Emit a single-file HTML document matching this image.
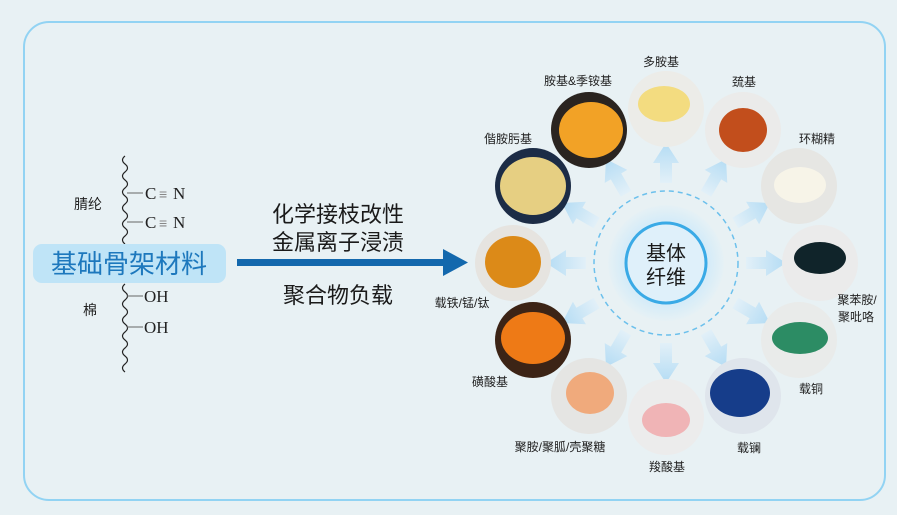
<!DOCTYPE html>
<html><head><meta charset="utf-8"><style>
html,body{margin:0;padding:0;background:#e8f1f4;}
svg{display:block;}
text{font-family:"Liberation Sans","Noto Sans CJK SC",sans-serif;}
text.serif{font-family:"Liberation Serif","DejaVu Serif",serif;}
</style></head><body>
<svg width="897" height="515" viewBox="0 0 897 515" xmlns="http://www.w3.org/2000/svg">
<defs>
<radialGradient id="glow" cx="50%" cy="50%" r="50%">
<stop offset="0%" stop-color="#cfe9f8"/><stop offset="75%" stop-color="#d6ecf8"/><stop offset="100%" stop-color="#e6f1f5"/>
</radialGradient>
<linearGradient id="arr" x1="0" y1="0" x2="1" y2="0">
<stop offset="0%" stop-color="#e2f0f8"/><stop offset="100%" stop-color="#b4dcf4"/>
</linearGradient>
</defs>
<rect x="24" y="22" width="861" height="478" rx="25" fill="#e8f1f4" stroke="#92d3f3" stroke-width="2"/>

<path d="M125 156 q-5 4 0 8 q5 4 0 8 q-5 4 0 8 q5 4 0 8 q-5 4 0 8 q5 4 0 8 q-5 4 0 8 q5 4 0 8 q-5 4 0 8 q5 4 0 8 q-5 4 0 8" fill="none" stroke="#222" stroke-width="1.2"/>
<path d="M125 284 q-5 4 0 8 q5 4 0 8 q-5 4 0 8 q5 4 0 8 q-5 4 0 8 q5 4 0 8 q-5 4 0 8 q5 4 0 8 q-5 4 0 8 q5 4 0 8 q-5 4 0 8" fill="none" stroke="#222" stroke-width="1.2"/>
<line x1="127" y1="193" x2="143" y2="193" stroke="#666"/>
<line x1="127" y1="222" x2="143" y2="222" stroke="#666"/>
<line x1="127" y1="296" x2="143" y2="296" stroke="#666"/>
<line x1="127" y1="327" x2="143" y2="327" stroke="#666"/>
<text class="serif" x="145" y="199" font-size="17" fill="#222">C</text>
<text x="159" y="199" font-size="14" fill="#888">≡</text>
<text class="serif" x="173" y="199" font-size="17" fill="#222">N</text>
<text class="serif" x="145" y="228" font-size="17" fill="#222">C</text>
<text x="159" y="228" font-size="14" fill="#888">≡</text>
<text class="serif" x="173" y="228" font-size="17" fill="#222">N</text>
<text class="serif" x="144" y="302" font-size="17" fill="#222">OH</text>
<text class="serif" x="144" y="333" font-size="17" fill="#222">OH</text>
<text x="74" y="209" font-size="14" fill="#222">腈纶</text>
<text x="83" y="315" font-size="14" fill="#222">棉</text>
<rect x="33" y="244" width="193" height="39" rx="9" fill="#bfe4f7"/>
<text x="129" y="273" font-size="26" fill="#1d78bd" text-anchor="middle">基础骨架材料</text>

<rect x="237" y="259" width="210" height="7" fill="#1368ad"/>
<polygon points="443,249 468,262.5 443,276" fill="#1368ad"/>
<text x="338" y="222" font-size="22" fill="#1a1a1a" text-anchor="middle">化学接枝改性</text>
<text x="338" y="250" font-size="22" fill="#1a1a1a" text-anchor="middle">金属离子浸渍</text>
<text x="338" y="303" font-size="22" fill="#1a1a1a" text-anchor="middle">聚合物负载</text>

<circle cx="666" cy="263" r="72" fill="none" stroke="#6cc0ec" stroke-width="1.5" stroke-dasharray="5,4"/>
<circle cx="666" cy="263" r="58" fill="url(#glow)"/>
<circle cx="666" cy="263" r="40" fill="#dff0fa" stroke="#3aaae6" stroke-width="3"/>
<text x="666" y="260" font-size="20" fill="#1a1a1a" text-anchor="middle">基体</text>
<text x="666" y="284" font-size="20" fill="#1a1a1a" text-anchor="middle">纤维</text>

<g fill="url(#arr)">
<g transform="translate(666,263) rotate(-90)"><polygon points="80,-6 100,-6 100,-13 120,0 100,13 100,6 80,6"/></g>
<g transform="translate(666,263) rotate(-60)"><polygon points="80,-6 100,-6 100,-13 120,0 100,13 100,6 80,6"/></g>
<g transform="translate(666,263) rotate(-30)"><polygon points="80,-6 100,-6 100,-13 120,0 100,13 100,6 80,6"/></g>
<g transform="translate(666,263) rotate(0)"><polygon points="80,-6 100,-6 100,-13 120,0 100,13 100,6 80,6"/></g>
<g transform="translate(666,263) rotate(30)"><polygon points="80,-6 100,-6 100,-13 120,0 100,13 100,6 80,6"/></g>
<g transform="translate(666,263) rotate(60)"><polygon points="80,-6 100,-6 100,-13 120,0 100,13 100,6 80,6"/></g>
<g transform="translate(666,263) rotate(90)"><polygon points="80,-6 100,-6 100,-13 120,0 100,13 100,6 80,6"/></g>
<g transform="translate(666,263) rotate(120)"><polygon points="80,-6 100,-6 100,-13 120,0 100,13 100,6 80,6"/></g>
<g transform="translate(666,263) rotate(150)"><polygon points="80,-6 100,-6 100,-13 120,0 100,13 100,6 80,6"/></g>
<g transform="translate(666,263) rotate(180)"><polygon points="80,-6 100,-6 100,-13 120,0 100,13 100,6 80,6"/></g>
<g transform="translate(666,263) rotate(210)"><polygon points="80,-6 100,-6 100,-13 120,0 100,13 100,6 80,6"/></g>
<g transform="translate(666,263) rotate(240)"><polygon points="80,-6 100,-6 100,-13 120,0 100,13 100,6 80,6"/></g>
</g>

<g>
<circle cx="666" cy="109" r="38" fill="#ecece8"/><ellipse cx="664" cy="104" rx="26" ry="18" fill="#f3dc80"/>
<circle cx="743" cy="130" r="38" fill="#ebebea"/><ellipse cx="743" cy="130" rx="24" ry="22" fill="#c24e1c"/>
<circle cx="799" cy="186" r="38" fill="#e6e6e3"/><ellipse cx="800" cy="185" rx="26" ry="18" fill="#f7f4e8"/>
<circle cx="820" cy="263" r="38" fill="#ebebeb"/><ellipse cx="820" cy="258" rx="26" ry="16" fill="#10242a"/>
<circle cx="799" cy="340" r="38" fill="#e9ebea"/><ellipse cx="800" cy="338" rx="28" ry="16" fill="#2c8c64"/>
<circle cx="743" cy="396" r="38" fill="#dfe5ec"/><ellipse cx="740" cy="393" rx="30" ry="24" fill="#163d8a"/>
<circle cx="666" cy="417" r="38" fill="#ececec"/><ellipse cx="666" cy="420" rx="24" ry="17" fill="#f0b4b6"/>
<circle cx="589" cy="396" r="38" fill="#e5e5e3"/><ellipse cx="590" cy="393" rx="24" ry="21" fill="#f0aa7c"/>
<circle cx="533" cy="340" r="38" fill="#3c2416"/><ellipse cx="533" cy="338" rx="32" ry="26" fill="#ee7a16"/>
<circle cx="513" cy="263" r="38" fill="#e6e4e0"/><ellipse cx="513" cy="262" rx="28" ry="26" fill="#dc8a18"/>
<circle cx="533" cy="186" r="38" fill="#1c2c46"/><ellipse cx="533" cy="186" rx="33" ry="29" fill="#e6cf82"/>
<circle cx="589" cy="130" r="38" fill="#2a2420"/><ellipse cx="591" cy="130" rx="32" ry="28" fill="#f2a226"/>
</g>

<g font-size="12" fill="#222" text-anchor="middle">
<text x="661" y="66">多胺基</text>
<text x="744" y="86">巯基</text>
<text x="817" y="143">环糊精</text>
<text x="857" y="304">聚苯胺/</text>
<text x="856" y="321">聚吡咯</text>
<text x="811" y="393">载铜</text>
<text x="749" y="452">载镧</text>
<text x="667" y="471">羧酸基</text>
<text x="560" y="451">聚胺/聚胍/壳聚糖</text>
<text x="490" y="386">磺酸基</text>
<text x="462" y="307">载铁/锰/钛</text>
<text x="508" y="143">偕胺肟基</text>
<text x="578" y="85">胺基&amp;季铵基</text>
</g>
</svg>
</body></html>
